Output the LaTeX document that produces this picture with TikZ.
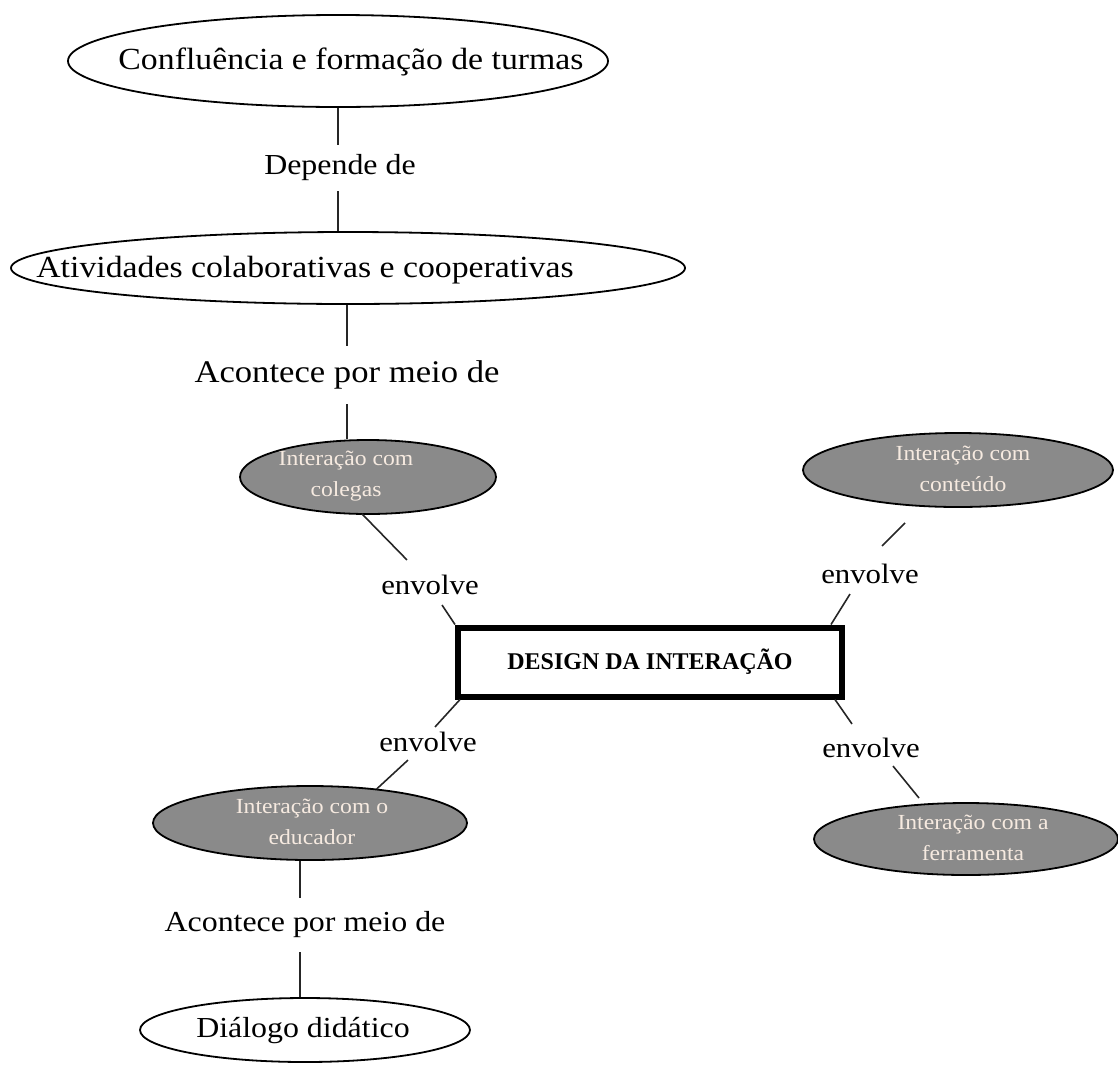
\documentclass[tikz,border=0pt]{standalone}
\usepackage{fontspec}
\setmainfont{Liberation Serif}[FakeStretch=1.1]
\newfontfamily\corefont{Liberation Serif}
\usetikzlibrary{shapes.geometric}
\definecolor{bubblegray}{RGB}{138,138,138}
\definecolor{bubbletext}{RGB}{246,234,224}
\begin{document}
\begin{tikzpicture}[x=1pt,y=-1pt,
  link/.style={line width=1.6pt, draw=black!85},
  outline/.style={ellipse, draw, line width=1.8pt, fill=white, inner sep=0pt},
  bubble/.style={ellipse, draw, line width=1.8pt, fill=bubblegray, inner sep=0pt},
  maintext/.style={font=\fontsize{30.7}{36}\selectfont, inner sep=0pt},
  bubbletxt/.style={font=\fontsize{21.5}{31}\selectfont, text=bubbletext, align=center, inner sep=0pt},
  lbl/.style={font=\fontsize{29}{34}\selectfont, inner xsep=2pt},
  verb/.style={font=\fontsize{28}{32}\selectfont, inner sep=0pt},
  corebox/.style={draw, line width=6pt, inner sep=0pt, fill=white,
    font=\corefont\bfseries\fontsize{24}{28}\selectfont}]

\useasboundingbox (0,0) rectangle (1118,1066);

% upper chain
\node[outline, minimum width=540pt, minimum height=92pt] (conf) at (338,61) {};
\node[maintext] (conf-t) at (351,62) {Confluência e formação de turmas};

\node[lbl, inner ysep=10pt] (dep) at (340,168) {Depende de};

\node[outline, minimum width=674pt, minimum height=72pt] (ativ) at (348,268) {};
\node[maintext] (ativ-t) at (305,270) {Atividades colaborativas e cooperativas};

\node[lbl, font=\fontsize{31.5}{36}\selectfont, inner ysep=15pt] (acont1) at (347,375) {Acontece por meio de};

\node[bubble, minimum width=256pt, minimum height=74pt] (colegas) at (368,477) {};
\node[bubbletxt] (colegas-t) at (346,476) {Interação com\\colegas};

% central box
\node[corebox, minimum width=384pt, minimum height=69pt] (core) at (650,662) {DESIGN DA INTERAÇÃO};

% right upper
\node[bubble, minimum width=310pt, minimum height=74pt] (conteudo) at (958,470) {};
\node[bubbletxt] (conteudo-t) at (963,469) {Interação com\\conteúdo};

% lower left
\node[bubble, minimum width=314pt, minimum height=74pt] (educador) at (310,823) {};
\node[bubbletxt] (educador-t) at (312,822) {Interação com o\\educador};

% lower right
\node[bubble, minimum width=304pt, minimum height=72pt] (ferramenta) at (966,839) {};
\node[bubbletxt] (ferramenta-t) at (973,838) {Interação com a\\ferramenta};

% bottom chain
\node[lbl, inner ysep=14pt] (acont2) at (305,925) {Acontece por meio de};
\node[outline, minimum width=330pt, minimum height=64pt] (dialogo) at (305,1030) {};
\node[maintext, font=\fontsize{29}{34}\selectfont] (dialogo-t) at (303,1031) {Diálogo didático};

% verbs around the box
\node[verb] (env1) at (430,585) {envolve};
\node[verb] (env2) at (870,574) {envolve};
\node[verb] (env3) at (428,742) {envolve};
\node[verb] (env4) at (871,748) {envolve};

% vertical links
\draw[link] (conf.south) -- (conf.south |- dep.north);
\draw[link] (conf.south |- dep.south) -- (conf.south |- ativ.north);
\draw[link] (ativ.south -| acont1.north) -- (acont1.north);
\draw[link] (acont1.south) -- (colegas.north -| acont1.south);
\draw[link] ([xshift=-10pt]educador.south) -- ([xshift=-10pt]educador.south |- acont2.north);
\draw[link] ([xshift=-10pt]educador.south |- acont2.south) -- ([xshift=-5pt]dialogo.north);

% diagonal links through the verbs
\draw[link] ([xshift=-6pt,yshift=1pt]colegas.south) -- ([xshift=-23pt,yshift=15pt]env1.north);
\draw[link] ([xshift=12pt,yshift=-10pt]env1.south) -- (core.north west);

\draw[link] ([xshift=-53pt,yshift=-15pt]conteudo.south) -- ([xshift=12pt,yshift=18pt]env2.north);
\draw[link] ([xshift=-20pt,yshift=-10pt]env2.south) -- ([xshift=-14pt]core.north east);

\draw[link] ([xshift=5pt]core.south west) -- ([xshift=7pt,yshift=5pt]env3.north);
\draw[link] ([xshift=-20pt,yshift=-8pt]env3.south) -- ([xshift=-45pt]educador.north east |- 0,789);

\draw[link] ([xshift=-10pt]core.south east) -- ([xshift=-19pt,yshift=14pt]env4.north);
\draw[link] ([xshift=22pt,yshift=-8pt]env4.south) -- (919,798);
\end{tikzpicture}
\end{document}
